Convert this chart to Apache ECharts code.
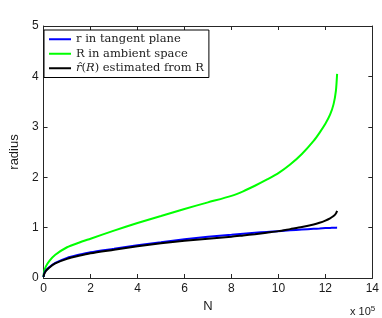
<!DOCTYPE html>
<html><head><meta charset="utf-8">
<script src="https://cdn.jsdelivr.net/npm/echarts@6/dist/echarts.min.js"></script>
<style>html,body{margin:0;padding:0;background:#fff}#c{width:382px;height:318px}</style>
</head><body><div id="c"></div>
<script>
// N in units of 1e5
var N = [0, 0.02, 0.1, 0.25, 0.5, 1, 1.5, 2, 3, 4, 5, 6, 7, 8, 8.5, 9, 9.5, 10, 10.5, 11, 11.5, 11.75, 12, 12.2, 12.35, 12.45, 12.5];
var rTangent = [0.02, 0.08, 0.15, 0.22, 0.30, 0.40, 0.46, 0.51, 0.58, 0.65, 0.71, 0.77, 0.82, 0.86, 0.88, 0.90, 0.915, 0.93, 0.945, 0.96, 0.975, 0.982, 0.99, 0.994, 0.997, 0.999, 1.0];
var RAmbient = [0.02, 0.12, 0.23, 0.34, 0.46, 0.61, 0.70, 0.78, 0.94, 1.09, 1.23, 1.37, 1.50, 1.63, 1.72, 1.83, 1.95, 2.08, 2.25, 2.46, 2.72, 2.88, 3.06, 3.24, 3.45, 3.72, 4.05];
var rHat = [0.02, 0.07, 0.14, 0.21, 0.29, 0.38, 0.44, 0.49, 0.56, 0.63, 0.69, 0.74, 0.78, 0.82, 0.845, 0.87, 0.90, 0.93, 0.97, 1.01, 1.06, 1.095, 1.14, 1.185, 1.23, 1.28, 1.33];
var xTicks = [0, 2, 4, 6, 8, 10, 12, 14];
var yTicks = [0, 1, 2, 3, 4, 5];
var names = ['r in tangent plane', 'R in ambient space', 'rhat'];

function pairs(ys){ return N.map(function(n,i){ return [n, ys[i]]; }); }

var chart = echarts.init(document.getElementById('c'));
var axisCol = '#262626';
var tickFont = {fontFamily: 'Liberation Sans', fontSize: 12, color: '#1a1a1a'};
var serif = 'DejaVu Serif';
chart.setOption({
  animation: false,
  grid: {left: 40, right: 9, top: 26, bottom: 30},
  legend: {
    orient: 'vertical', left: 44, top: 30,
    data: names.map(function(n){ return {name: n, icon: 'rect'}; }),
    itemWidth: 22, itemHeight: 2, itemGap: 2,
    padding: [3, 5, 3, 5],
    borderColor: '#000', borderWidth: 1, backgroundColor: '#fff',
    textStyle: {fontFamily: serif, fontSize: 11.5, lineHeight: 12.5, color: '#222', padding: [0,0,0,0],
      rich: {i: {fontFamily: serif, fontStyle: 'italic', fontSize: 11.5, color: '#222'}}},
    formatter: function(n){ return n === 'rhat' ? '{i|r̂}({i|R}) estimated from R' : n; }
  },
  xAxis: [{
    type: 'value', min: 0, max: 14, interval: 2, position: 'bottom',
    name: 'N', nameLocation: 'middle', nameGap: 22,
    nameTextStyle: {fontFamily: 'Liberation Sans', fontSize: 13, color: '#1a1a1a'},
    axisLine: {show: true, onZero: false, lineStyle: {color: axisCol}},
    axisTick: {inside: true, length: 4, lineStyle: {color: axisCol}},
    axisLabel: Object.assign({margin: 5, formatter: function(v){ return xTicks.indexOf(v) >= 0 ? String(v) : ''; }}, tickFont),
    splitLine: {show: false}
  }, {
    type: 'value', min: 0, max: 14, interval: 2, position: 'top',
    axisLine: {show: true, onZero: false, lineStyle: {color: axisCol}},
    axisTick: {inside: true, length: 4, lineStyle: {color: axisCol}},
    axisLabel: {show: false}, splitLine: {show: false}
  }],
  yAxis: [{
    type: 'value', min: 0, max: 5, interval: 1, position: 'left',
    name: 'radius', nameLocation: 'middle', nameGap: 22,
    nameTextStyle: {fontFamily: 'Liberation Sans', fontSize: 13, color: '#1a1a1a'},
    axisLine: {show: true, onZero: false, lineStyle: {color: axisCol}},
    axisTick: {inside: true, length: 4, lineStyle: {color: axisCol}},
    axisLabel: Object.assign({margin: 5, formatter: function(v){ return yTicks.indexOf(v) >= 0 ? String(v) : ''; }}, tickFont),
    splitLine: {show: false}
  }, {
    type: 'value', min: 0, max: 5, interval: 1, position: 'right',
    axisLine: {show: true, onZero: false, lineStyle: {color: axisCol}},
    axisTick: {inside: true, length: 4, lineStyle: {color: axisCol}},
    axisLabel: {show: false}, splitLine: {show: false}
  }],
  series: [
    {name: names[1], type: 'line', data: pairs(RAmbient), showSymbol: false, smooth: 0.25, lineStyle: {color: '#00ff00', width: 2}, itemStyle: {color: '#00ff00'}, z: 2},
    {name: names[0], type: 'line', data: pairs(rTangent), showSymbol: false, smooth: 0.25, lineStyle: {color: '#0000ff', width: 2}, itemStyle: {color: '#0000ff'}, z: 3},
    {name: names[2], type: 'line', data: pairs(rHat), showSymbol: false, smooth: 0.25, lineStyle: {color: '#000000', width: 2}, itemStyle: {color: '#000000'}, z: 4}
  ],
  graphic: [{
    type: 'text', left: 350, top: 305,
    style: {text: 'x 10{s|5}', fontFamily: 'Liberation Sans', fontSize: 11, fill: '#1a1a1a',
      rich: {s: {fontSize: 8, verticalAlign: 'top', padding: [0,0,6,0], fontFamily: 'Liberation Sans', fill: '#1a1a1a'}}}
  }]
});
</script></body></html>
